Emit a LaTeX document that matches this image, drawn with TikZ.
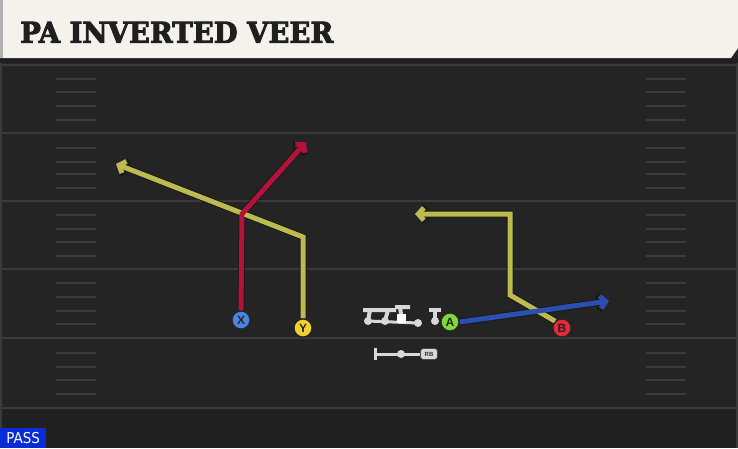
\documentclass[tikz,border=0pt]{standalone}
\usepackage{fontspec}
\setsansfont{Liberation Sans}
\newfontfamily\titlefont[BoldFeatures={FakeBold=3}]{DejaVu Serif Condensed}
\newfontfamily\passfont{DejaVu Sans Condensed}
\usetikzlibrary{arrows.meta}
\definecolor{fieldbg}{HTML}{242424}
\definecolor{fieldlow}{HTML}{202020}
\definecolor{yardline}{HTML}{3A3A3A}
\definecolor{hashc}{HTML}{3C3C3C}
\definecolor{cream}{HTML}{F5F2EC}
\definecolor{routeyellow}{HTML}{BDBA4F}
\definecolor{routered}{HTML}{B3123A}
\definecolor{routeblue}{HTML}{2A4FAE}
\definecolor{pblue}{HTML}{4A86E0}
\definecolor{pyellow}{HTML}{F2D22E}
\definecolor{pgreen}{HTML}{7ED83A}
\definecolor{pred}{HTML}{E8283C}
\definecolor{passblue}{HTML}{0A2CD8}
\definecolor{olgray}{HTML}{D8D8D8}
\tikzset{
  player/.style={circle, minimum size=18pt, inner sep=0pt, draw=black!85, line width=1.2pt,
    font=\sffamily\bfseries\fontsize{12}{12}\selectfont, text=black!85},
  routeout/.style={line width=7pt, draw=black!90, line join=miter, -{Straight Barb[length=6.5pt,width=15pt]}},
  routein/.style={line width=5pt, line join=miter, -{Straight Barb[length=5.5pt,width=12.5pt]}},
  yard/.style={draw=yardline, line width=2pt},
  hashmark/.style={draw=hashc, line width=1.5pt},
  olshape/.style={draw=olgray, line width=4pt},
}
\begin{document}
\begin{tikzpicture}[x=1pt,y=-1pt]
\useasboundingbox (0,0) rectangle (738,448);
% field
\fill[fieldbg] (0,0) rectangle (738,448);
\fill[fieldlow] (0,408) rectangle (738,448);
\draw[draw=yardline, line width=1.5pt] (1,60) -- (1,448);
\draw[draw=yardline, line width=1.5pt] (737,60) -- (737,448);
% yard lines
\foreach \y in {65,133,201,269,338,408} \draw[yard] (0,\y) -- (738,\y);
% hashes
\foreach \y in {79,92,106,120,148,162,174,188,215,229,242,256,283,297,311,324,353,367,380,394}{
  \draw[hashmark] (56,\y) -- (96,\y);
  \draw[hashmark] (646,\y) -- (686,\y);
}
% title bar
\fill[black!88] (0,58) rectangle (738,63);
\fill[cream] (0,0) -- (738,0) -- (738,48) -- (731,58) -- (0,58) -- cycle;
\fill[black!30] (0,0) rectangle (3,58);
\node[anchor=south west, inner sep=0pt, text=black!88] (title) at (20,43)
  {\resizebox{313pt}{21pt}{\titlefont\bfseries PA INVERTED VEER}};
% players
\node[player, fill=pblue] (X) at (241,320) {X};
\node[player, fill=pyellow] (Y) at (303,328) {Y};
\node[player, fill=pgreen] (A) at (450,322) {A};
\node[player, fill=pred] (B) at (562,328) {B};
% route points
\coordinate (x1) at (242,214);
\coordinate (x2) at (306,142);
\coordinate (y1) at (303,237);
\coordinate (y2) at (116,164);
\coordinate (a1) at (609,301);
\coordinate (b1) at (510,295);
\coordinate (b2) at (510,214);
\coordinate (b3) at (415,214);
% routes: outlines
\draw[routeout] (Y.north) -- (y1) -- (y2);
\draw[routeout] (X.north) -- (x1) -- (x2);
\draw[routeout] (B.north west) -- (b1) -- (b2) -- (b3);
\draw[routeout] (A.east) -- (a1);
% routes: colour
\draw[routein, routeyellow] (Y.north) -- (y1) -- (y2);
\draw[routein, routered] (X.north) -- (x1) -- (x2);
\draw[routein, routeyellow] (B.north west) -- (b1) -- (b2) -- (b3);
\draw[routein, routeblue] (A.east) -- (a1);
% redraw players on top
\node[player, fill=pblue] at (X) {X};
\node[player, fill=pyellow] at (Y) {Y};
\node[player, fill=pgreen] at (A) {A};
\node[player, fill=pred] at (B) {B};
% offensive line
\coordinate (o1) at (368,321);
\coordinate (o2) at (385,321);
\coordinate (o3) at (402,321);
\coordinate (o4) at (418,323);
\coordinate (o5) at (435,321);
\draw[olshape, line width=3pt] (o1) -- (o4);
\draw[olshape] (363,310) -- (379,310) (370,310) -- (o1);
\draw[olshape] (379,310) -- (396,310) (388,310) -- (o2);
\draw[olshape] (395,307) -- (410,307) (400,307) -- (o3);
\draw[olshape] (429,310) -- (441,310) (o5) -- (435,310);
\fill[white] (397,314) rectangle (406,323);
\foreach \p in {o1,o2,o4,o5} \fill[olgray] (\p) circle (4pt);
% running back
\coordinate (rb0) at (375,354);
\coordinate (rb1) at (401,354);
\node[fill=olgray, draw=black!70, line width=0.6pt, rounded corners=3pt, inner sep=1pt, minimum width=17pt, minimum height=11pt,
  font=\sffamily\bfseries\fontsize{6}{6}\selectfont, text=black!80] (RB) at (429,354) {RB};
\draw[olshape, line width=3pt] (375,348) -- (375,360);
\draw[olshape, line width=3pt] (rb0) -- (RB.west);
\fill[olgray] (rb1) circle (4pt);
% pass label
\node[fill=passblue, anchor=south west, inner sep=0pt, minimum width=46pt, minimum height=20pt,
  text=white, font=\passfont\fontsize{15}{15}\selectfont] (pass) at (0,448) {PASS};
\end{tikzpicture}
\end{document}
